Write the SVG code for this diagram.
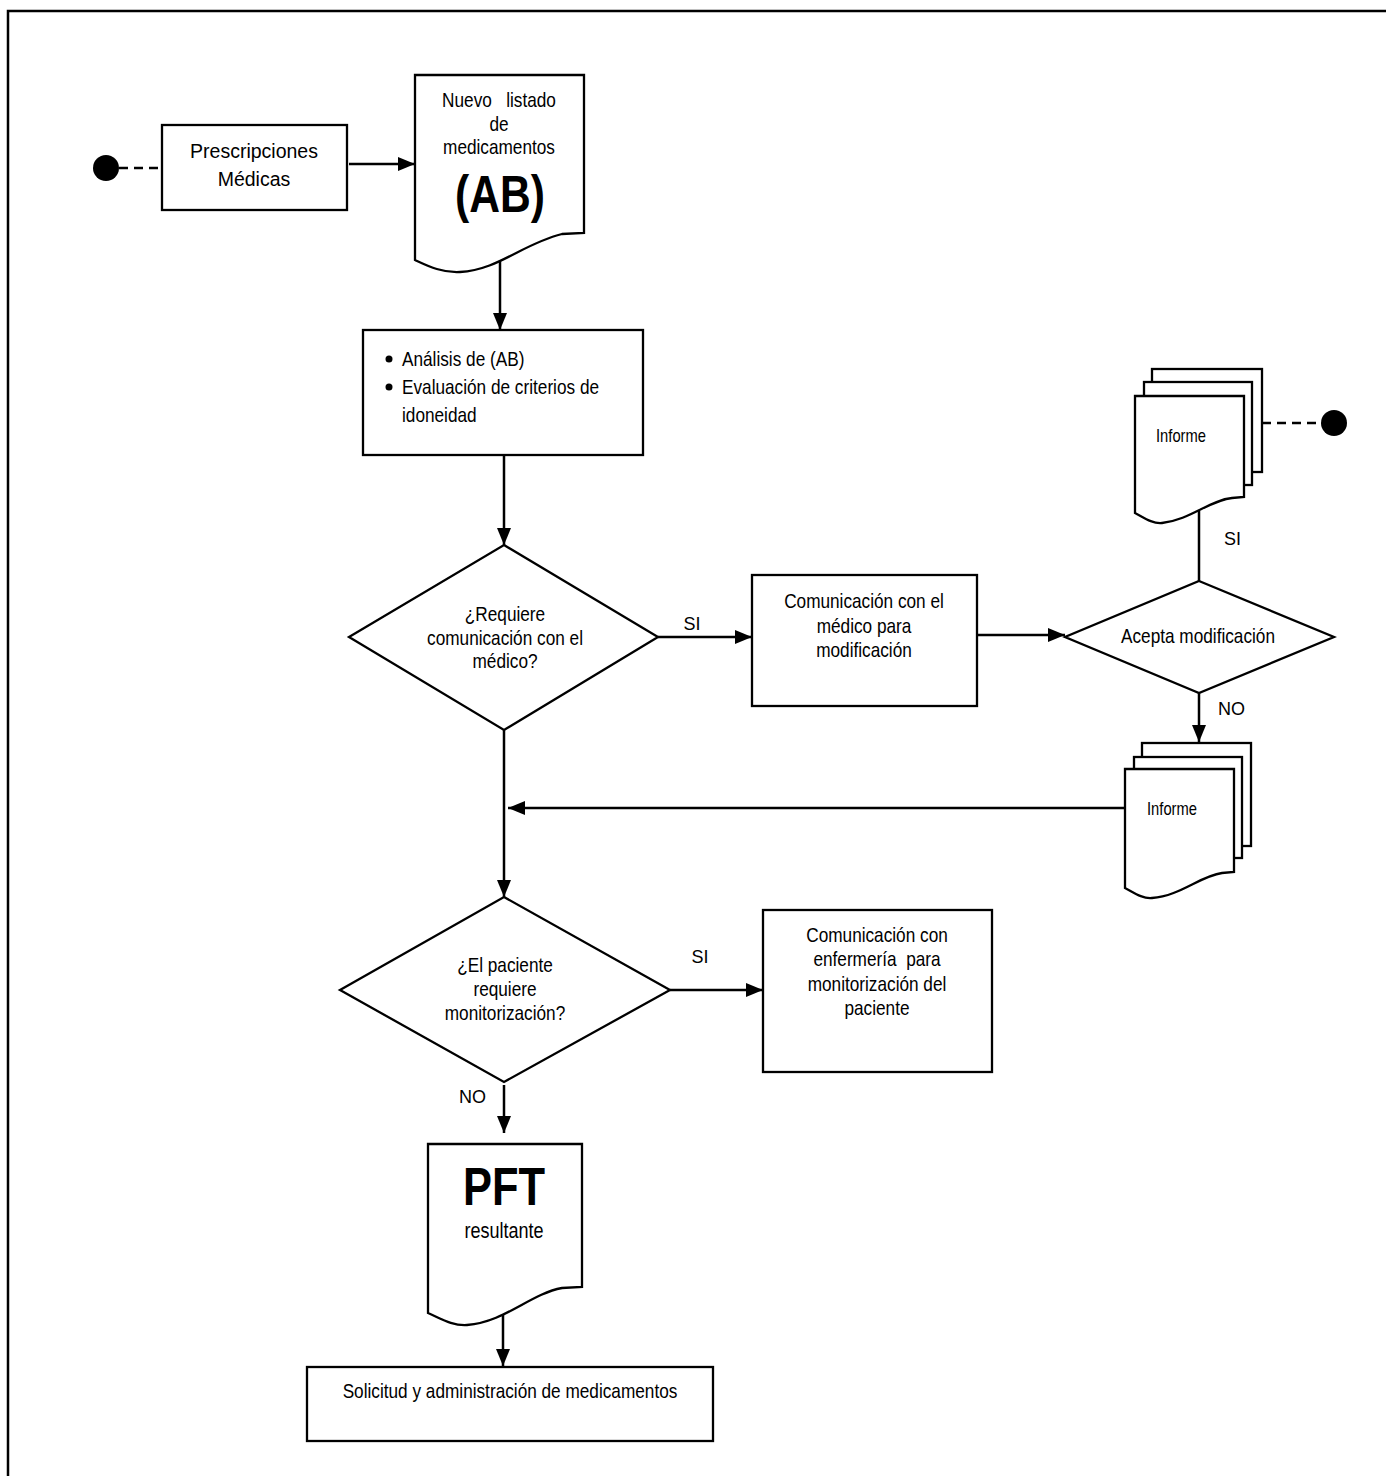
<svg xmlns="http://www.w3.org/2000/svg" width="1386" height="1476" viewBox="0 0 1386 1476">
<defs>
<marker id="arr" markerUnits="userSpaceOnUse" markerWidth="17" markerHeight="14" refX="17" refY="7" orient="auto">
<path d="M0,0 L17,7 L0,14 Z" fill="#000"/>
</marker>
<style>
.s{fill:#fff;stroke:#000;stroke-width:2.3}
.c{fill:none;stroke:#000;stroke-width:2.5}
.a{fill:none;stroke:#000;stroke-width:2.5;marker-end:url(#arr)}
.d{fill:none;stroke:#000;stroke-width:2.5;stroke-dasharray:9 6}
.dot{fill:#000}
.t{font-family:"Liberation Sans",Arial,sans-serif;fill:#000}
.n{font-size:21px}
.m{text-anchor:middle}
.b{font-weight:bold}
.lab{font-size:18px}
</style>
</defs>
<rect width="1386" height="1476" fill="#fff"/>
<path d="M8,1476 V11 H1386" fill="none" stroke="#000" stroke-width="2.5"/>

<g id="connectors">
<line class="d" x1="119" y1="168" x2="162" y2="168"/>
<line class="a" x1="349" y1="164" x2="415" y2="164"/>
<line class="a" x1="500" y1="259" x2="500" y2="330"/>
<line class="a" x1="504" y1="455" x2="504" y2="545"/>
<line class="a" x1="658" y1="637" x2="752" y2="637"/>
<line class="a" x1="977" y1="635" x2="1065" y2="635"/>
<line class="c" x1="1199" y1="581" x2="1199" y2="511"/>
<line class="d" x1="1262" y1="423" x2="1321" y2="423"/>
<line class="a" x1="1199" y1="693" x2="1199" y2="742"/>
<line class="a" x1="1125" y1="808" x2="508" y2="808"/>
<line class="a" x1="504" y1="730" x2="504" y2="897"/>
<line class="a" x1="670" y1="990" x2="763" y2="990"/>
<line class="a" x1="504" y1="1085" x2="504" y2="1133"/>
<line class="a" x1="503" y1="1313" x2="503" y2="1366"/>
<text class="t lab m" x="692" y="630">SI</text>
<text class="t lab" x="1224" y="545">SI</text>
<text class="t lab" x="1218" y="715">NO</text>
<text class="t lab m" x="700" y="963">SI</text>
<text class="t lab" x="459" y="1103">NO</text>
</g>

<g id="start1"><circle class="dot" cx="106" cy="168" r="13"/></g>

<g id="prescripciones">
<rect class="s" x="162" y="125" width="185" height="85"/>
<text class="t m" font-size="19.5" x="254" y="158">Prescripciones</text>
<text class="t m" font-size="19.5" x="254" y="186">Médicas</text>
</g>

<g id="listadoAB">
<path class="s" d="M415,75 H584 V233 L562,234 C522,244 498,270 460,272 C442,273 428,266 415,260 Z"/>
<text class="t n m" transform="translate(499,0) scale(0.82,1)" style="white-space:pre"><tspan x="0" y="107">Nuevo   listado</tspan><tspan x="0" y="131">de</tspan><tspan x="0" y="154">medicamentos</tspan></text>
<text class="t b m" font-size="52" transform="translate(500,0) scale(0.82,1)" x="0" y="212">(AB)</text>
</g>

<g id="analisis">
<rect class="s" x="363" y="330" width="280" height="125"/>
<circle class="dot" cx="389" cy="359" r="3.5"/>
<circle class="dot" cx="389" cy="387" r="3.5"/>
<text class="t n" transform="translate(402,0) scale(0.82,1)"><tspan x="0" y="366">Análisis de (AB)</tspan><tspan x="0" y="394">Evaluación de criterios de</tspan><tspan x="0" y="422">idoneidad</tspan></text>
</g>

<g id="decision1">
<polygon class="s" points="504,545 658,637 504,730 349,637"/>
<text class="t n m" transform="translate(505,0) scale(0.82,1)"><tspan x="0" y="621">¿Requiere</tspan><tspan x="0" y="645">comunicación con el</tspan><tspan x="0" y="668">médico?</tspan></text>
</g>

<g id="comMedico">
<rect class="s" x="752" y="575" width="225" height="131"/>
<text class="t n m" transform="translate(864,0) scale(0.82,1)"><tspan x="0" y="608">Comunicación con el</tspan><tspan x="0" y="633">médico para</tspan><tspan x="0" y="657">modificación</tspan></text>
</g>

<g id="decision2">
<polygon class="s" points="1199,581 1334,637 1199,693 1065,637"/>
<text class="t n m" transform="translate(1198,0) scale(0.82,1)" x="0" y="643">Acepta modificación</text>
</g>

<g id="informe1">
<rect class="s" x="1152" y="369" width="110" height="103"/>
<rect class="s" x="1144" y="382" width="108" height="103"/>
<path class="s" d="M1135,396 H1244 V497 L1232,498 C1210,500 1190,520 1162,523 C1152,524 1143,517 1135,513 Z"/>
<text class="t" font-size="18" transform="translate(1156,0) scale(0.82,1)" x="0" y="442">Informe</text>
</g>

<g id="end1"><circle class="dot" cx="1334" cy="423" r="13"/></g>

<g id="informe2">
<rect class="s" x="1142" y="743" width="109" height="103"/>
<rect class="s" x="1134" y="757" width="108" height="101"/>
<path class="s" d="M1125,769 H1234 V872 L1222,873 C1200,876 1180,896 1152,898 C1142,899 1133,892 1125,888 Z"/>
<text class="t" font-size="18" transform="translate(1147,0) scale(0.82,1)" x="0" y="815">Informe</text>
</g>

<g id="decision3">
<polygon class="s" points="504,897 670,990 504,1082 340,990"/>
<text class="t n m" transform="translate(505,0) scale(0.82,1)"><tspan x="0" y="972">¿El paciente</tspan><tspan x="0" y="996">requiere</tspan><tspan x="0" y="1020">monitorización?</tspan></text>
</g>

<g id="comEnfermeria">
<rect class="s" x="763" y="910" width="229" height="162"/>
<text class="t n m" transform="translate(877,0) scale(0.82,1)" style="white-space:pre"><tspan x="0" y="942">Comunicación con</tspan><tspan x="0" y="966">enfermería  para</tspan><tspan x="0" y="991">monitorización del</tspan><tspan x="0" y="1015">paciente</tspan></text>
</g>

<g id="pft">
<path class="s" d="M428,1144 H582 V1287 L562,1288 C530,1294 505,1322 467,1325 C452,1326 440,1318 428,1313 Z"/>
<text class="t b m" font-size="53" transform="translate(504,0) scale(0.82,1)" x="0" y="1205">PFT</text>
<text class="t m" font-size="22" transform="translate(504,0) scale(0.82,1)" x="0" y="1238">resultante</text>
</g>

<g id="solicitud">
<rect class="s" x="307" y="1367" width="406" height="74"/>
<text class="t n m" transform="translate(510,0) scale(0.82,1)" x="0" y="1398">Solicitud y administración de medicamentos</text>
</g>
</svg>
